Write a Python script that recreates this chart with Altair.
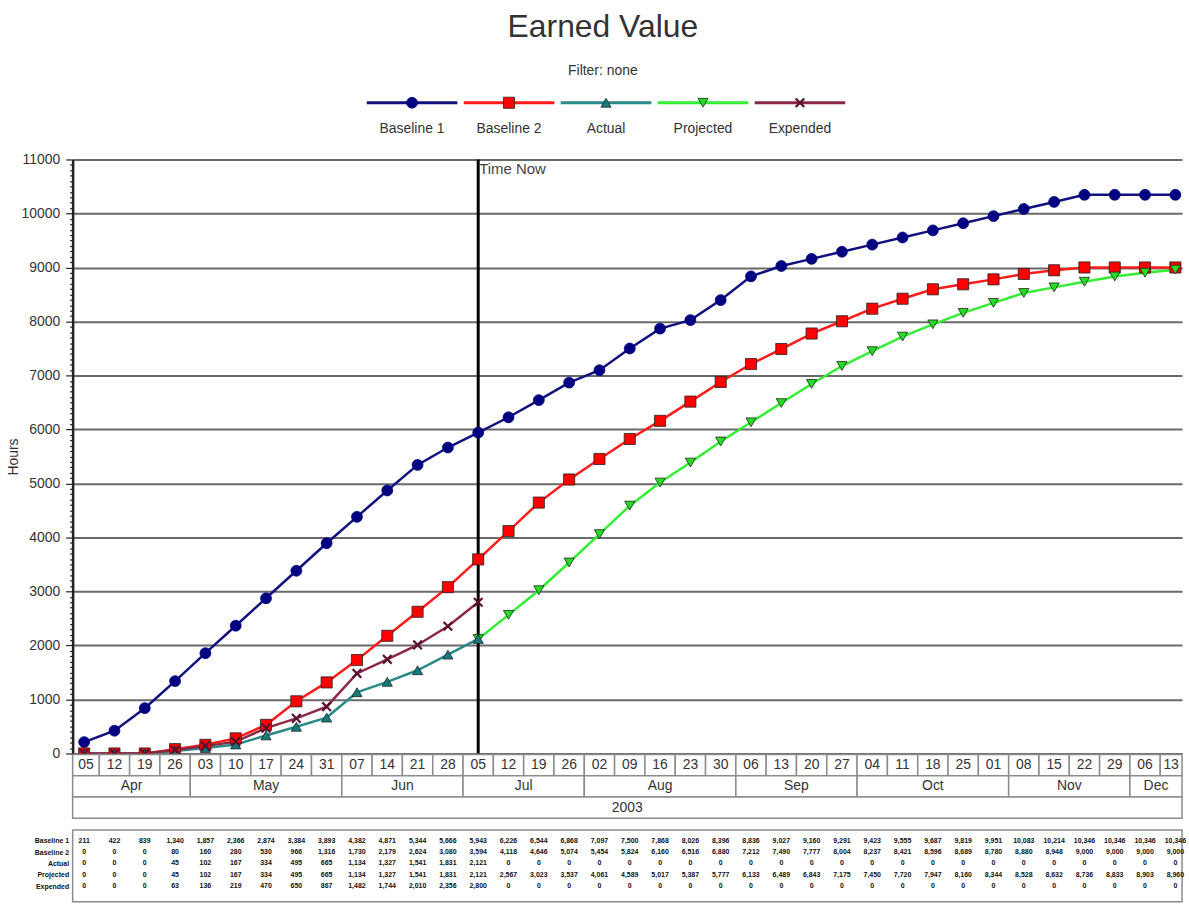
import altair as alt
import pandas as pd

# ---------------- data ----------------
week_labels = ["05", "12", "19", "26", "03", "10", "17", "24", "31", "07", "14", "21", "28",
               "05", "12", "19", "26", "02", "09", "16", "23", "30", "06", "13", "20", "27",
               "04", "11", "18", "25", "01", "08", "15", "22", "29", "06", "13"]
months = ["Apr", "May", "Jun", "Jul", "Aug", "Sep", "Oct", "Nov", "Dec"]
month_weeks = [4, 5, 4, 4, 5, 4, 5, 4, 2]
year_label = "2003"
time_now_week = 13

series_names = ["Baseline 1", "Baseline 2", "Actual", "Projected", "Expended"]

baseline1 = [211, 422, 839, 1340, 1857, 2366, 2874, 3384, 3893, 4382, 4871, 5344, 5666,
             5943, 6226, 6544, 6868, 7097, 7500, 7868, 8026, 8396, 8836, 9027, 9160, 9291,
             9423, 9555, 9687, 9819, 9951, 10083, 10214, 10346, 10346, 10346, 10346]
baseline2 = [0, 0, 0, 80, 160, 280, 530, 966, 1316, 1730, 2179, 2624, 3080,
             3594, 4118, 4646, 5074, 5454, 5824, 6160, 6516, 6880, 7212, 7490, 7777, 8004,
             8237, 8421, 8596, 8689, 8780, 8880, 8948, 9000, 9000, 9000, 9000]
actual = [0, 0, 0, 45, 102, 167, 334, 495, 665, 1134, 1327, 1541, 1831,
          2121, 0, 0, 0, 0, 0, 0, 0, 0, 0, 0, 0, 0,
          0, 0, 0, 0, 0, 0, 0, 0, 0, 0, 0]
projected = [0, 0, 0, 45, 102, 167, 334, 495, 665, 1134, 1327, 1541, 1831,
             2121, 2567, 3023, 3537, 4061, 4589, 5017, 5387, 5777, 6133, 6489, 6843, 7175,
             7450, 7720, 7947, 8160, 8344, 8528, 8632, 8736, 8833, 8903, 8960]
expended = [0, 0, 0, 63, 136, 219, 470, 650, 867, 1482, 1744, 2010, 2356,
            2800, 0, 0, 0, 0, 0, 0, 0, 0, 0, 0, 0, 0,
            0, 0, 0, 0, 0, 0, 0, 0, 0, 0, 0]
series_values = [baseline1, baseline2, actual, projected, expended]

# ---------------- styles ----------------
FONT = "Liberation Sans"
TEXT = "#333333"
line_colors = ["#10107f", "#ff1a1a", "#2a8a8a", "#33ee33", "#8a2846"]
fill_colors = ["#000080", "#ff0000", "#127b7b", "#22dd22", "#5a1030"]
X_PATH = "M-1,-1L1,1M-1,1L1,-1"
shapes = ["circle", "square", "triangle-up", "triangle-down", X_PATH]
sizes = [120, 125, 105, 105, 75]

PLOT_W = 1115
PLOT_H = 597
X_DOMAIN = [-0.38, 36.22]

n = len(week_labels)

rows = []
for name, vals in zip(series_names, series_values):
    for i, v in enumerate(vals):
        rows.append({"series": name, "week": i, "hours": v})
df = pd.DataFrame(rows)


def visible(r):
    if r["series"] in ("Actual", "Expended"):
        return r["week"] <= time_now_week
    if r["series"] == "Projected":
        return r["week"] >= time_now_week
    return True


df_plot = df[df.apply(visible, axis=1)]

x_enc = alt.X("week:Q", scale=alt.Scale(domain=X_DOMAIN, nice=False, zero=False), axis=None)
tick_values = list(range(0, 11001, 100))
is_major = "datum.value % 1000 === 0"
y_axis = alt.Axis(
    values=tick_values,
    labelExpr=f"{is_major} ? datum.label : ''",
    format="d",
    labelOverlap=False,
    labelFontSize=14,
    labelColor=TEXT,
    labelPadding=6,
    tickColor="#222222",
    tickSize={"condition": {"test": is_major, "value": 7}, "value": 3},
    tickWidth=1.2,
    domainColor="#222222",
    domainWidth=2.5,
    grid=True,
    gridColor="#6a6a6a",
    gridWidth=2,
    gridOpacity={"condition": {"test": is_major, "value": 1}, "value": 0},
    title="Hours",
    titleFontSize=14,
    titleFontWeight="normal",
    titleColor=TEXT,
    titlePadding=0,
)
y_enc = alt.Y("hours:Q", scale=alt.Scale(domain=[0, 11000], nice=False), axis=y_axis, title="Hours")

layers = []
now_df = pd.DataFrame({"week": [time_now_week], "label": ["Time Now"], "hours": [11000]})
layers.append(alt.Chart(now_df).mark_rule(color="#000000", strokeWidth=3).encode(x=x_enc))
layers.append(
    alt.Chart(now_df).mark_text(align="left", baseline="top", dx=1, dy=3, fontSize=15, color="#444444")
    .encode(x=x_enc, y=y_enc, text="label:N")
)

draw_order = [0, 1, 3, 2, 4]
for k in draw_order:
    sdf = df_plot[df_plot["series"] == series_names[k]]
    layers.append(alt.Chart(sdf).mark_line(color=line_colors[k], strokeWidth=2.5).encode(x=x_enc, y=y_enc))
for k in draw_order:
    sdf = df_plot[df_plot["series"] == series_names[k]]
    if k == 4:
        pt = alt.Chart(sdf).mark_point(shape=shapes[k], filled=False, stroke=fill_colors[k],
                                       strokeWidth=2.2, size=sizes[k], opacity=1)
    else:
        pt = alt.Chart(sdf).mark_point(shape=shapes[k], filled=True, fill=fill_colors[k],
                                       stroke="#222222" if k else fill_colors[k], strokeWidth=0.8,
                                       size=sizes[k], opacity=1)
    layers.append(pt.encode(x=x_enc, y=y_enc))

main = alt.layer(*layers).properties(width=PLOT_W, height=PLOT_H)

# ---------------- legend panel ----------------
legend_df = pd.DataFrame({"series": series_names, "pos": list(range(len(series_names)))})
LEG_X = alt.Scale(domain=[-3.5, 7.94], nice=False, zero=False)
leg_layers = []
for k, name in enumerate(series_names):
    ld = legend_df[legend_df["series"] == name]
    leg_layers.append(
        alt.Chart(ld).transform_calculate(a="datum.pos - 0.467", b="datum.pos + 0.467")
        .mark_rule(color=line_colors[k], strokeWidth=3)
        .encode(x=alt.X("a:Q", scale=LEG_X, axis=None), x2="b:Q", y=alt.value(14))
    )
for k, name in enumerate(series_names):
    ld = legend_df[legend_df["series"] == name]
    if k == 4:
        pt = alt.Chart(ld).mark_point(shape=shapes[k], filled=False, stroke=fill_colors[k],
                                      strokeWidth=2.2, size=sizes[k], opacity=1)
    else:
        pt = alt.Chart(ld).mark_point(shape=shapes[k], filled=True, fill=fill_colors[k],
                                      stroke="#222222" if k else fill_colors[k], strokeWidth=0.8,
                                      size=sizes[k], opacity=1)
    leg_layers.append(pt.encode(x=alt.X("pos:Q", scale=LEG_X, axis=None), y=alt.value(14)))
leg_layers.append(
    alt.Chart(legend_df).mark_text(fontSize=14, color=TEXT, baseline="middle")
    .encode(x=alt.X("pos:Q", scale=LEG_X, axis=None), y=alt.value(40), text="series:N")
)
legend = alt.layer(*leg_layers).properties(width=PLOT_W, height=71)

# ---------------- time bands ----------------
band_rows = []
for i, lab in enumerate(week_labels):
    band_rows.append({"row": "day", "start": i, "end": i, "label": lab})
s = 0
for m, c in zip(months, month_weeks):
    band_rows.append({"row": "month", "start": s, "end": s + c - 1, "label": m})
    s += c
band_rows.append({"row": "year", "start": 0, "end": n - 1, "label": year_label})
band_df = pd.DataFrame(band_rows)

bx = alt.Scale(domain=X_DOMAIN, nice=False, zero=False)
by = alt.Y("row:N", scale=alt.Scale(domain=["day", "month", "year"], range=[1, 65],
                                      paddingInner=0, paddingOuter=0), axis=None)
band_base = alt.Chart(band_df).transform_calculate(
    x0=f"max(datum.start - 0.5, {X_DOMAIN[0]})",
    x1=f"min(datum.end + 0.5, {X_DOMAIN[1]})",
).transform_calculate(mid="(datum.x0 + datum.x1) / 2")
band_rect = band_base.mark_rect(fill="#ffffff", stroke="#8c8c8c", strokeWidth=1.5).encode(
    x=alt.X("x0:Q", scale=bx, axis=None), x2="x1:Q", y=by)
band_text = band_base.mark_text(fontSize=14, color=TEXT, baseline="middle").encode(
    x=alt.X("mid:Q", scale=bx, axis=None), y=by, text="label:N")
bands = alt.layer(band_rect, band_text).properties(width=PLOT_W, height=77)

# ---------------- data table ----------------
trows = []
for name, vals in zip(series_names, series_values):
    for i, v in enumerate(vals):
        trows.append({"series": name, "week": i, "txt": f"{v:,}"})
table_df = pd.DataFrame(trows)
table = alt.Chart(table_df).mark_text(fontSize=7, color="#111111", fontWeight="bold").encode(
    x=alt.X("week:Q", scale=bx, axis=None),
    y=alt.Y("series:N", sort=series_names,
            scale=alt.Scale(domain=series_names, range=[5, 62]),
            axis=alt.Axis(title=None, ticks=False, domain=False, labelFontSize=7,
                          labelFontWeight="bold", labelColor="#111111", labelPadding=4)),
    text="txt:N",
).properties(width=PLOT_W, height=72,
             view=alt.ViewBackground(stroke="#8c8c8c", strokeWidth=1.5))

chart = alt.vconcat(legend, main, bands, table, spacing=0, bounds="flush").properties(
    title=alt.Title("Earned Value", subtitle="Filter: none", anchor="middle", fontSize=32,
                    fontWeight="normal", color=TEXT, subtitleFontSize=14, subtitleColor=TEXT,
                    subtitlePadding=20, offset=10, dx=6, font=FONT, subtitleFont=FONT),
    padding={"left": 7, "top": 9, "right": 2, "bottom": 0},
).configure(font=FONT).configure_view(stroke=None)

chart.save("out.html", embed_options={"renderer": "svg", "actions": False})
